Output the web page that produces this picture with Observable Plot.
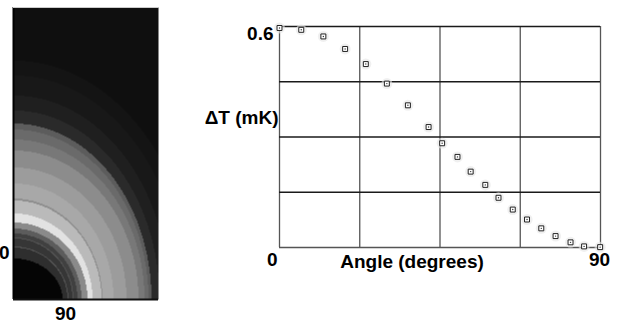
<!DOCTYPE html>
<html>
<head>
<meta charset="utf-8">
<script src="https://cdn.jsdelivr.net/npm/d3@7"></script>
<script src="https://cdn.jsdelivr.net/npm/@observablehq/plot@0.6"></script>
<style>
  body { margin: 0; background: white; }
  #wrap { position: relative; width: 617px; height: 323px; overflow: hidden; background: white; }
  #left, #right { position: absolute; top: 0; }
  #left { left: 0; }
  #right { left: 180px; }
</style>
</head>
<body>
<div id="wrap"><div id="left"></div><div id="right"></div></div>
<script>
// ---- Right panel data: ΔT vs angle ----
const angles = [0, 6.1, 12.3, 18.4, 24.2, 30.1, 36, 41.8, 45.6, 49.9, 53.6, 57.7, 61.4, 65.4, 69.4, 73.4, 77.4, 81.6, 85.4, 89.9];
const deltaT = [0.596, 0.591, 0.573, 0.539, 0.498, 0.445, 0.386, 0.327, 0.283, 0.246, 0.206, 0.170, 0.135, 0.103, 0.076, 0.052, 0.031, 0.014, 0.003, 0.001];
const xGrid = [0, 22.5, 45, 67.5, 90];
const yGrid = [0, 0.15, 0.3, 0.45, 0.6];
const xTickValues = [0, 90];
const xTickLabels = ["0", "90"];
const yTickValue = 0.6;
const yTickLabel = "0.6";
const xLabel = "Angle (degrees)";
const yLabel = "ΔT (mK)";

// ---- Left panel data: concentric bands (outer extents, inner to outer) ----
const bandRy = [41, 52, 53, 61, 62, 66, 71, 77, 86, 99, 101, 116, 132, 149, 160, 170, 176, 189, 204, 224, 239];
const bandRx = [49, 54, 55, 59, 60, 64, 68, 74, 79, 88, 89, 100, 113, 125, 131, 135, 138, 146, 156, 170, 182];
const bandGray = ["#050505", "#2e2e2e", "#555555", "#363636", "#555555", "#404040", "#5c5c5c", "#8a8a8a", "#e2e2e2", "#bababa", "#8e8e8e", "#a8a8a8", "#9c9c9c", "#8c8c8c", "#787878", "#6a6a6a", "#5c5c5c", "#2a2a2a", "#1f1f1f", "#181818", "#141414"];
const outerGray = "#0f0f0f";
const leftLabels = ["0", "90"];

const FONT = "Liberation Sans, Arial, Helvetica, sans-serif";
const FS = 19;

function bandColor(x, y) {
  for (let i = 0; i < bandRx.length; i++) {
    const u = x / bandRx[i], v = y / bandRy[i];
    if (u * u + v * v <= 1) return bandGray[i];
  }
  return outerGray;
}

const left = Plot.plot({
  width: 170, height: 323,
  marginLeft: 13, marginRight: 12, marginTop: 7, marginBottom: 24,
  x: {domain: [0, 145], axis: null},
  y: {domain: [0, 292], axis: null},
  color: {type: "identity"},
  style: {fontFamily: FONT, background: "white"},
  marks: [
    Plot.raster({fill: bandColor, x1: 0, y1: 0, x2: 145, y2: 292, width: 145, height: 292}),
    Plot.ruleX([0], {stroke: "#000", strokeWidth: 2}),
    Plot.ruleY([0], {stroke: "#111", strokeWidth: 2}),
    Plot.ruleY([292], {stroke: "#ccc", strokeWidth: 1}),
    Plot.text([leftLabels[0]], {text: d => d, frameAnchor: "bottom-left", textAnchor: "end", dx: -4, dy: -41, fontSize: FS, fontWeight: "bold", fill: "#000"}),
    Plot.text([leftLabels[1]], {text: d => d, frameAnchor: "bottom-left", textAnchor: "middle", dx: 52, dy: 20, fontSize: FS, fontWeight: "bold", fill: "#000"})
  ]
});
document.getElementById("left").appendChild(left);

const pts = angles.map((a, i) => ({angle: a, dT: deltaT[i]}));

const right = Plot.plot({
  width: 437, height: 323,
  marginLeft: 99, marginRight: 17, marginTop: 26, marginBottom: 76,
  x: {domain: [0, 90], axis: null},
  y: {domain: [0, 0.6], axis: null},
  style: {fontFamily: FONT, background: "white"},
  marks: [
    Plot.ruleX(xGrid, {stroke: "#555", strokeWidth: 1.3}),
    Plot.ruleY(yGrid.slice(1), {stroke: "#1a1a1a", strokeWidth: 1.3}),
    Plot.ruleY([yGrid[0]], {stroke: "#555", strokeWidth: 1.3}),
    Plot.dot(pts, {x: "angle", y: "dT", r: 5.5, fill: "#e6e6e6", fillOpacity: 0.6, stroke: null}),
    Plot.dot(pts, {x: "angle", y: "dT", symbol: "square", r: 2.8, fill: "white", stroke: "#222", strokeWidth: 1}),
    Plot.dot(pts, {x: "angle", y: "dT", r: 0.7, fill: "#333", stroke: null}),
    Plot.text([xTickLabels[0]], {x: xTickValues[0], text: d => d, frameAnchor: "bottom", textAnchor: "end", dx: -2, dy: 18, fontSize: FS, fontWeight: "bold", fill: "#000"}),
    Plot.text([xTickLabels[1]], {x: xTickValues[1], text: d => d, frameAnchor: "bottom", textAnchor: "middle", dx: -1, dy: 18, fontSize: FS, fontWeight: "bold", fill: "#000"}),
    Plot.text([xLabel], {text: d => d, frameAnchor: "bottom", dx: -28, dy: 20, fontSize: FS, fontWeight: "bold", fill: "#000"}),
    Plot.text([yTickLabel], {y: yTickValue, text: d => d, frameAnchor: "left", textAnchor: "end", dx: -6, dy: 7, fontSize: FS, fontWeight: "bold", fill: "#000"}),
    Plot.text([yLabel], {text: d => d, frameAnchor: "left", textAnchor: "end", dx: -1, dy: -19, fontSize: FS, fontWeight: "bold", fill: "#000"})
  ]
});
document.getElementById("right").appendChild(right);
</script>
</body>
</html>
